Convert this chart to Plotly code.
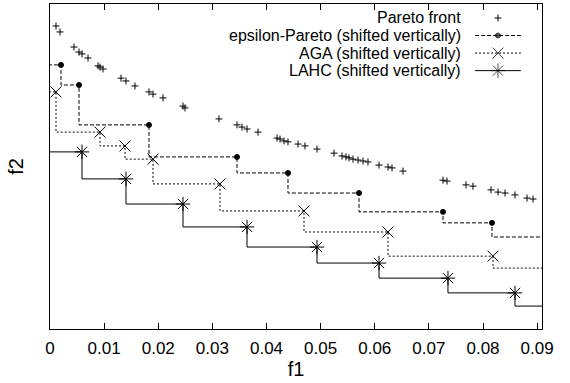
import plotly.graph_objects as go

# ---------------- data ----------------
pareto_f1 = [0.00111, 0.00185, 0.00443, 0.00536, 0.00591, 0.00702, 0.00887, 0.00924, 0.00979,
             0.01312, 0.01404, 0.01570, 0.01829, 0.01903, 0.02088, 0.02457, 0.02494, 0.03122,
             0.03455, 0.03547, 0.03640, 0.03843, 0.04194, 0.04250, 0.04323, 0.04397, 0.04582,
             0.04711, 0.04933, 0.05247, 0.05395, 0.05469, 0.05524, 0.05598, 0.05691, 0.05783,
             0.05875, 0.06079, 0.06245, 0.06319, 0.06522, 0.07261, 0.07335, 0.07686, 0.07815,
             0.08148, 0.08277, 0.08407, 0.08591, 0.08813, 0.08924]
pareto_f2 = [93.0, 91.1, 86.3, 84.7, 84.1, 82.8, 80.3, 79.9, 79.3,
             76.4, 75.5, 73.9, 72.0, 71.3, 70.1, 67.5, 66.9, 63.4,
             61.5, 60.8, 60.2, 59.2, 57.3, 57.0, 56.4, 56.1, 55.4,
             54.8, 53.8, 52.5, 51.6, 51.3, 51.0, 50.6, 50.3, 50.0,
             49.7, 48.7, 48.1, 47.8, 46.8, 43.9, 43.6, 42.4, 42.0,
             40.8, 40.1, 39.8, 39.2, 38.2, 37.9]

eps_f1 = [-0.003, 0.00203, 0.00536, 0.01829, 0.03455, 0.04397, 0.05709, 0.07261, 0.08166, 0.095]
eps_f2 = [99.0, 80.6, 74.2, 61.5, 51.3, 46.2, 39.8, 33.8, 30.3, 25.8]

aga_f1 = [-0.003, 0.00111, 0.00924, 0.01386, 0.01903, 0.03141, 0.04693, 0.06245, 0.08185, 0.095]
aga_f2 = [99.0, 72.0, 59.2, 54.8, 50.6, 42.7, 34.1, 27.4, 19.7, 15.9]

lahc_f1 = [-0.003, 0.00591, 0.01404, 0.02457, 0.03640, 0.04933, 0.06079, 0.07353, 0.08591, 0.095]
lahc_f2 = [99.0, 52.9, 44.3, 36.3, 29.0, 22.6, 17.5, 12.7, 8.0, 3.8]

names = ["Pareto front", "epsilon-Pareto (shifted vertically)",
         "AGA (shifted vertically)", "LAHC (shifted vertically)"]
x_ticks = [0, 0.01, 0.02, 0.03, 0.04, 0.05, 0.06, 0.07, 0.08, 0.09]
x_tick_text = ["0", "0.01", "0.02", "0.03", "0.04", "0.05", "0.06", "0.07", "0.08", "0.09"]

# ---------------- styles ----------------
FONT = "Liberation Sans, Arial, sans-serif"
FS = 17
KEY_FS = 16
BLACK = "#000000"
styles = [
    dict(mode="markers", dash="solid", symbol="cross-thin-open", size=5),
    dict(mode="lines+markers", dash="4px,2px", symbol="circle", size=5),
    dict(mode="lines+markers", dash="2px,2px", symbol="x-thin-open", size=11),
    dict(mode="lines+markers", dash="solid", symbol="asterisk-open", size=12),
]
series = [(pareto_f1, pareto_f2), (eps_f1, eps_f2), (aga_f1, aga_f2), (lahc_f1, lahc_f2)]

fig = go.Figure()
for (xs, ys), st, nm in zip(series, styles, names):
    fig.add_trace(go.Scatter(
        x=xs, y=ys, mode=st["mode"], name=nm, showlegend=False,
        line=dict(color=BLACK, width=1, dash=st["dash"], shape="vh"),
        marker=dict(color=BLACK, symbol=st["symbol"], size=st["size"],
                    line=dict(color=BLACK, width=1)),
    ))

# gnuplot-style key: text right-aligned, sample on the right (overlay axes 0..1)
key_text_right = 0.839
key_s0, key_s1 = 0.864, 0.957
key_rows = [0.957, 0.903, 0.849, 0.795]
for st, nm, ry in zip(styles, names, key_rows):
    fig.add_annotation(x=key_text_right, y=ry, xref="paper", yref="paper", text=nm,
                       showarrow=False, xanchor="right", yanchor="middle",
                       font=dict(family=FONT, size=KEY_FS, color=BLACK))
    if st["mode"] == "markers":
        fig.add_trace(go.Scatter(x=[(key_s0 + key_s1) / 2], y=[ry], xaxis="x2", yaxis="y2",
                                 mode="markers", showlegend=False, hoverinfo="skip",
                                 marker=dict(color=BLACK, symbol=st["symbol"], size=st["size"],
                                             line=dict(color=BLACK, width=1))))
    else:
        fig.add_trace(go.Scatter(x=[key_s0, (key_s0 + key_s1) / 2, key_s1], y=[ry, ry, ry],
                                 xaxis="x2", yaxis="y2", mode="lines+markers",
                                 showlegend=False, hoverinfo="skip",
                                 line=dict(color=BLACK, width=1, dash=st["dash"]),
                                 marker=dict(color=BLACK, symbol=st["symbol"],
                                             size=[0, st["size"], 0],
                                             line=dict(color=BLACK, width=1))))

fig.update_layout(
    width=570, height=383,
    margin=dict(l=50, r=28, t=4, b=54),
    paper_bgcolor="white", plot_bgcolor="white",
    font=dict(family=FONT, size=FS, color=BLACK),
    showlegend=False,
    xaxis=dict(range=[0, 0.0909], tickvals=x_ticks, ticktext=x_tick_text,
               ticks="inside", ticklen=6, tickcolor=BLACK, showgrid=False, zeroline=False,
               showline=True, linecolor=BLACK, linewidth=1, mirror="allticks",
               ticklabelstandoff=4,
               title=dict(text="f1", standoff=3), tickfont=dict(size=FS),
               automargin=False),
    yaxis=dict(range=[-3.5, 100], showticklabels=False, ticks="", showgrid=False,
               zeroline=False, showline=True, linecolor=BLACK, linewidth=1, mirror=True,
               title=dict(text="f2", standoff=20)),
    xaxis2=dict(overlaying="x", range=[0, 1], visible=False),
    yaxis2=dict(overlaying="y", range=[0, 1], visible=False),
)

fig.write_html("out.html")
